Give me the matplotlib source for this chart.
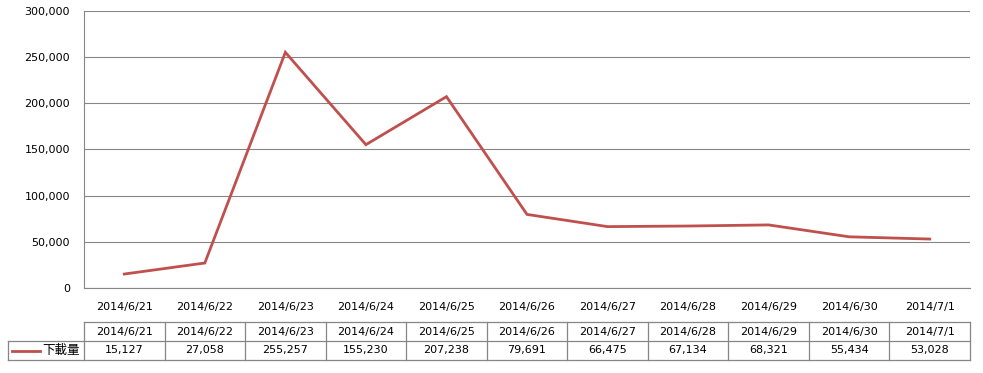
import matplotlib
matplotlib.use("Agg")
import matplotlib.pyplot as plt
from matplotlib.ticker import FuncFormatter, MultipleLocator

categories = ["2014/6/21", "2014/6/22", "2014/6/23", "2014/6/24", "2014/6/25", "2014/6/26",
              "2014/6/27", "2014/6/28", "2014/6/29", "2014/6/30", "2014/7/1"]
downloads = [15127, 27058, 255257, 155230, 207238, 79691, 66475, 67134, 68321, 55434, 53028]
series_name = "下載量"

W, H = 983, 373
fig = plt.figure(figsize=(W / 100, H / 100), dpi=100)
plt.rcParams['font.family'] = ['DejaVu Sans', 'Noto Sans CJK TC']

line_color = "#C0504D"
grid_color = "#868686"
fs = 8

L, R, T, B = 84, 970, 11, 288
ax = fig.add_axes([L / W, 1 - B / H, (R - L) / W, (B - T) / H])
n = len(categories)
xs = list(range(n))
ax.plot(xs, downloads, color=line_color, lw=2.0, solid_joinstyle='miter')
ax.set_xlim(-0.5, n - 0.5)
ax.set_ylim(0, 300000)
ax.yaxis.set_major_locator(MultipleLocator(50000))
ax.yaxis.set_major_formatter(FuncFormatter(lambda v, p: f"{int(v):,}"))
ax.grid(axis='y', color=grid_color, lw=0.8)
ax.set_axisbelow(True)
for s in ['top', 'right']:
    ax.spines[s].set_visible(False)
ax.spines['left'].set_color(grid_color)
ax.spines['bottom'].set_color(grid_color)
ax.spines['left'].set_linewidth(0.8)
ax.spines['bottom'].set_linewidth(0.8)
ax.tick_params(axis='y', length=0, labelsize=fs, pad=10)
ax.set_xticks(xs)
ax.set_xticklabels(categories)
ax.tick_params(axis='x', length=0, labelsize=fs, pad=10)

# data table
tL, tT, tB = 8, 322, 360
unit = (R - L) / n
tax = fig.add_axes([tL / W, 1 - tB / H, (R - tL) / W, (tB - tT) / H])
x0 = -0.5 - (L - tL) / unit
tax.set_xlim(x0, n - 0.5)
tax.set_ylim(0, 2)
tax.axis('off')
lc = grid_color
lw = 0.9
tax.plot([-0.5, n - 0.5], [2, 2], color=lc, lw=lw, clip_on=False)
tax.plot([x0, n - 0.5], [1, 1], color=lc, lw=lw, clip_on=False)
tax.plot([x0, n - 0.5], [0, 0], color=lc, lw=lw, clip_on=False)
tax.plot([x0, x0], [0, 1], color=lc, lw=lw, clip_on=False)
for i in range(n + 1):
    tax.plot([i - 0.5, i - 0.5], [0, 2], color=lc, lw=lw, clip_on=False)
for i, (c, v) in enumerate(zip(categories, downloads)):
    tax.text(i, 1.5, c, ha='center', va='center', fontsize=fs)
    tax.text(i, 0.5, f"{v:,}", ha='center', va='center', fontsize=fs)
kx0 = x0 + 4 / unit
kx1 = x0 + 32 / unit
tax.plot([kx0, kx1], [0.5, 0.5], color=line_color, lw=2.0, clip_on=False)
tax.text(kx1 + 2 / unit, 0.5, series_name, ha='left', va='center', fontsize=fs + 1,
         family=['Noto Sans CJK TC', 'DejaVu Sans'])

fig.savefig("out.png", dpi=100)
